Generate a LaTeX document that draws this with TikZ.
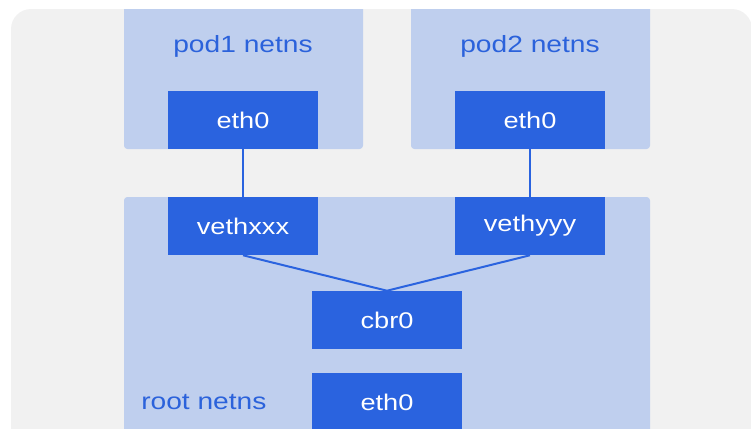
\documentclass[tikz,border=0pt]{standalone}
\usepackage{graphicx}
\usepackage{fontspec}
\setmainfont{Liberation Sans}
\definecolor{bgrey}{HTML}{F1F1F1}
\definecolor{lblue}{HTML}{BFCFEE}
\definecolor{dblue}{HTML}{2A63DF}
\definecolor{tblue}{HTML}{2B62DB}
\newcommand\widetxt[1]{\scalebox{1.2}[1]{#1}}
\begin{document}
\begin{tikzpicture}[x=0.75pt,y=-0.75pt,
  iface/.style={fill=dblue,draw=none,minimum width=112.5pt,minimum height=43.5pt,inner sep=0pt,text=white,font=\fontsize{17}{19}\selectfont},
  nslabel/.style={text=tblue,inner sep=0pt,font=\fontsize{17.6}{20}\selectfont},
  nsbox/.style={fill=lblue,rounded corners=2.5pt},
  wire/.style={draw=dblue,line width=1.5pt}]
\useasboundingbox (0,0) rectangle (751,429);
\clip (0,0) rectangle (751,429);
\fill[bgrey, rounded corners=15pt] (11,9) rectangle (752,452);
\begin{scope}
\clip[rounded corners=15pt] (11,9) rectangle (752,452);
\fill[nsbox] (124,-5) rectangle (363,149);
\fill[nsbox] (411,-5) rectangle (650,149);
\fill[nsbox] (124,197) rectangle (650,450);
\node[nslabel,anchor=base] (l1) at (243,52) {\widetxt{pod1 netns}};
\node[nslabel,anchor=base] (l2) at (530,52) {\widetxt{pod2 netns}};
\node[nslabel,anchor=base west] (l3) at (141,409) {\widetxt{root netns}};
\node[iface] (e1) at (243,120) {\widetxt{eth0}};
\node[iface] (e2) at (530,120) {\widetxt{eth0}};
\node[iface] (vx) at (243,226) {\widetxt{vethxxx}};
\node[iface] (vy) at (530,226) {\widetxt{vethyyy}};
\node[iface] (cb) at (387,320) {\widetxt{cbr0}};
\node[iface] (e0) at (387,402) {\widetxt{eth0}};
\draw[wire] (e1.south) -- (vx.north);
\draw[wire] (e2.south) -- (vy.north);
\draw[wire] (vx.south) -- (cb.north);
\draw[wire] (vy.south) -- (cb.north);
\end{scope}
\end{tikzpicture}
\end{document}
